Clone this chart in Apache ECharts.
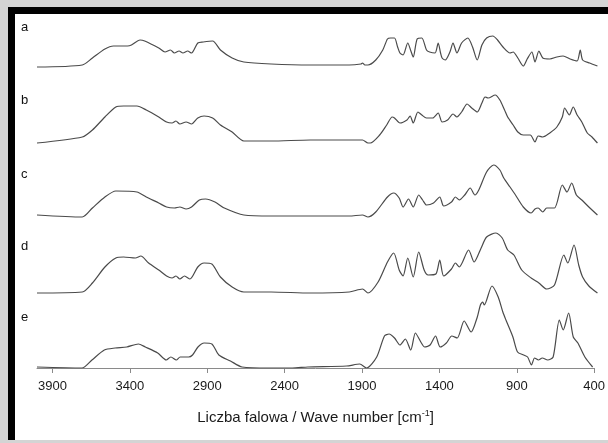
<!DOCTYPE html>
<html>
<head>
<meta charset="utf-8">
<script src="https://cdn.jsdelivr.net/npm/echarts@6/dist/echarts.min.js"></script>
<style>
  body { margin: 0; background: #d4d4d4; }
  #frame { position: absolute; left: 8px; top: 7px; width: 600px; height: 433px; box-sizing: border-box;
           background: #fff; border-left: 7px solid #000; border-top: 7px solid #000; }
  #chart { position: absolute; left: 0; top: 0; width: 608px; height: 443px; }
</style>
</head>
<body>
<div id="frame"></div>
<div id="chart"></div>
<script>
// sample labels and tick values
var sampleNames = ['a', 'b', 'c', 'd', 'e'];
var tickValues = [3900, 3400, 2900, 2400, 1900, 1400, 900, 400];

// [wavenumber cm-1, relative absorbance]
var specA = [
  [4000,0],[3710,2],[3645,9],[3565,18],[3510,21],[3420,21],[3395,22],[3340,27],[3310,26],[3220,19],
  [3180,15],[3145,17],[3120,14],[3090,16],[3065,14],[3035,16],[3010,14],[2970,24],[2935,25],[2875,26],
  [2825,17],[2750,9],[2675,5],[2500,3],[2250,2],[2000,2],[1925,3],[1915,4],[1900,2],[1880,2],
  [1830,7],[1785,17],[1755,28],[1735,29],[1710,29],[1690,20],[1675,14],[1655,12],[1625,24],[1605,16],
  [1590,10],[1565,28],[1535,29],[1505,17],[1485,15],[1450,14],[1430,24],[1415,14],[1405,9],[1385,7],
  [1355,15],[1335,24],[1310,14],[1280,24],[1240,29],[1210,20],[1180,7],[1150,22],[1120,29],[1080,31],
  [1050,27],[1015,20],[970,14],[950,15],[920,9],[885,1],[860,8],[830,15],[810,5],[785,16],
  [760,9],[715,8],[670,10],[630,11],[585,8],[540,6],[520,17],[505,7],[460,4],[410,1]
];
var specB = [
  [4000,0],[3710,6],[3645,13],[3565,26],[3495,36],[3445,37],[3360,37],[3300,33],[3220,26],[3170,21],
  [3135,20],[3110,22],[3085,19],[3045,21],[3010,19],[2970,25],[2930,27],[2875,25],[2825,18],[2750,11],
  [2675,2],[2500,2],[2250,3],[2000,3],[1915,3],[1880,0],[1865,0],[1805,8],[1760,18],[1725,26],
  [1710,25],[1675,20],[1630,23],[1610,27],[1590,20],[1560,31],[1535,28],[1505,25],[1465,25],[1430,30],
  [1405,21],[1370,23],[1335,29],[1310,26],[1280,31],[1245,39],[1215,35],[1180,31],[1150,40],[1130,46],
  [1110,45],[1065,48],[1035,43],[1005,33],[985,26],[950,18],[920,11],[885,8],[840,8],[810,1],
  [790,7],[760,6],[715,10],[670,16],[635,26],[620,35],[590,28],[565,36],[540,28],[510,21],
  [475,10],[445,6],[410,0]
];
var specC = [
  [4000,2],[3710,0],[3645,9],[3565,20],[3495,26],[3360,25],[3300,20],[3220,14],[3170,10],[3120,9],
  [3085,10],[3045,8],[3010,10],[2960,17],[2920,18],[2860,15],[2800,9],[2675,2],[2500,1],[2250,1],
  [2000,1],[1915,2],[1880,0],[1830,5],[1755,20],[1715,24],[1680,19],[1655,10],[1620,18],[1590,10],
  [1555,22],[1530,17],[1505,12],[1460,14],[1420,20],[1395,11],[1345,15],[1320,20],[1295,17],[1260,22],
  [1225,29],[1195,22],[1170,27],[1120,45],[1075,52],[1035,47],[1010,39],[970,30],[935,22],[885,10],
  [835,4],[810,8],[790,9],[760,5],[735,9],[685,9],[635,32],[605,25],[575,34],[545,22],
  [510,17],[465,10],[410,2]
];
var specD = [
  [4000,0],[3710,1],[3645,10],[3565,26],[3495,35],[3445,36],[3370,35],[3335,37],[3285,30],[3220,23],
  [3170,17],[3135,15],[3110,17],[3085,14],[3055,17],[3020,14],[2970,26],[2930,30],[2880,29],[2825,16],
  [2750,6],[2675,1],[2500,1],[2250,0],[2000,1],[1915,4],[1880,0],[1815,11],[1755,31],[1715,40],
  [1680,23],[1655,17],[1625,35],[1590,16],[1555,41],[1520,23],[1495,18],[1445,19],[1420,33],[1395,17],
  [1345,24],[1320,30],[1295,26],[1235,43],[1200,31],[1155,45],[1120,56],[1060,60],[1020,55],[985,43],
  [945,38],[895,23],[835,15],[785,10],[735,4],[685,8],[625,38],[600,30],[560,48],[530,28],
  [505,16],[465,7],[410,0]
];
var specE = [
  [4000,1],[3710,0],[3645,8],[3565,18],[3495,20],[3420,21],[3345,24],[3300,21],[3220,15],[3165,8],
  [3135,11],[3100,8],[3075,11],[3020,11],[2995,13],[2960,21],[2920,25],[2870,24],[2825,13],[2750,7],
  [2675,1],[2500,0],[2350,0],[2250,1],[2000,2],[1915,4],[1870,0],[1805,11],[1755,32],[1725,34],
  [1690,30],[1655,23],[1620,29],[1585,18],[1555,35],[1520,26],[1495,21],[1460,23],[1425,32],[1395,21],
  [1355,25],[1320,32],[1285,30],[1240,47],[1195,36],[1155,51],[1135,63],[1120,66],[1110,63],[1060,82],
  [1020,71],[990,56],[970,48],[925,31],[895,16],[855,13],[830,11],[805,3],[785,10],[760,8],
  [735,10],[700,8],[665,11],[625,48],[600,38],[565,55],[535,31],[505,25],[460,11],[410,1]
];

var spectra = [specA, specB, specC, specD, specE];
var baselines = [67, 143, 217, 293, 368];   // y pixel of each trace's zero line
var labelTops = [21, 94, 168, 240, 311];

var chart = echarts.init(document.getElementById('chart'));
var font = 'Liberation Sans, Arial, sans-serif';
var grids = [], xAxes = [], yAxes = [], series = [];

spectra.forEach(function (data, i) {
  var last = i === spectra.length - 1;
  var pad = last ? 0 : 10;
  grids.push({ left: 37, right: 9, top: 15, bottom: 443 - baselines[i] - pad });
  xAxes.push({
    gridIndex: i, type: 'value', min: 400, max: 4000, inverse: true, show: last,
    splitLine: { show: false },
    axisLine: { lineStyle: { color: '#8a8a8a', width: 1 } },
    axisTick: { customValues: tickValues, length: 5, lineStyle: { color: '#8a8a8a' } },
    axisLabel: {
      customValues: tickValues, margin: 12, fontSize: 13, color: '#1a1a1a', fontFamily: font,
      formatter: function (v) { return String(v); }
    },
    name: 'Liczba falowa / Wave number [cm{sup|-1}]',
    nameLocation: 'middle', nameGap: 41,
    nameTextStyle: {
      fontSize: 15, color: '#1a1a1a', fontFamily: font, lineHeight: 18,
      rich: { sup: { fontSize: 9, lineHeight: 18, verticalAlign: 'top', color: '#1a1a1a', fontFamily: font } }
    }
  });
  yAxes.push({ gridIndex: i, type: 'value', min: -pad, max: baselines[i] - 15, show: false });
  series.push({
    name: sampleNames[i], type: 'line', xAxisIndex: i, yAxisIndex: i, data: data,
    showSymbol: false, smooth: 0.25, silent: true,
    lineStyle: { color: '#4a4a4a', width: 1.2 }
  });
});

chart.setOption({
  animation: false,
  grid: grids,
  xAxis: xAxes,
  yAxis: yAxes,
  series: series,
  graphic: sampleNames.map(function (t, i) {
    return { type: 'text', left: 21, top: labelTops[i],
             style: { text: t, fontSize: 13, fill: '#111', fontFamily: font } };
  })
});
</script>
</body>
</html>
